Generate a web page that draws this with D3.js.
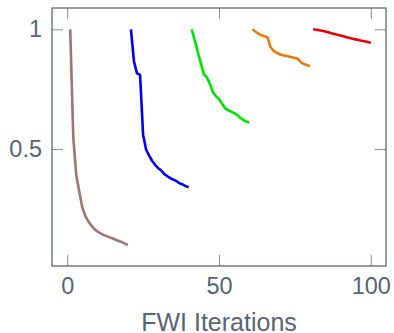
<!DOCTYPE html>
<html>
<head>
<meta charset="utf-8">
<script src="https://cdn.jsdelivr.net/npm/d3@7"></script>
<style>
  body { margin: 0; background: #fff; }
  svg { display: block; }
  .tick text { font-family: "Liberation Sans", Arial, sans-serif; font-size: 23.5px; fill: #566474; }
  .label { font-family: "Liberation Sans", Arial, sans-serif; font-size: 25px; fill: #566474; }
</style>
</head>
<body>
<div id="chart"></div>
<script>
// one line per stage, 20 iterations each
const stage1 = [1.0, 0.55, 0.39, 0.32, 0.255, 0.22, 0.197, 0.18, 0.165, 0.155, 0.148, 0.141, 0.136, 0.131, 0.126, 0.121, 0.116, 0.111, 0.105, 0.099];
const stage2 = [1.0, 0.865, 0.816, 0.81, 0.56, 0.497, 0.472, 0.45, 0.433, 0.42, 0.41, 0.395, 0.386, 0.378, 0.372, 0.366, 0.357, 0.352, 0.345, 0.34];
const stage3 = [1.0, 0.955, 0.905, 0.86, 0.812, 0.8, 0.772, 0.737, 0.72, 0.709, 0.69, 0.67, 0.662, 0.656, 0.65, 0.643, 0.63, 0.621, 0.615, 0.611];
const stage4 = [1.0, 0.99, 0.982, 0.975, 0.971, 0.966, 0.925, 0.91, 0.902, 0.896, 0.892, 0.889, 0.886, 0.883, 0.88, 0.877, 0.862, 0.855, 0.85, 0.847];
const stage5 = [1.0, 0.998, 0.996, 0.994, 0.991, 0.988, 0.984, 0.98, 0.977, 0.974, 0.971, 0.967, 0.964, 0.961, 0.958, 0.955, 0.952, 0.95, 0.947, 0.944];
const stages = [stage1, stage2, stage3, stage4, stage5];
const colors = ['#a07474', '#0000f5', '#00e400', '#ec7a0c', '#ec0000'];
const xTicks = [0, 50, 100];
const yTicks = [0.5, 1];

const margin = {top: 8, right: 8, bottom: 67, left: 52};
const W = 394, H = 333;
const w = W - margin.left - margin.right;
const h = H - margin.top - margin.bottom;

const svg = d3.select('#chart').append('svg')
  .attr('width', W)
  .attr('height', H);

const g = svg.append('g')
  .attr('transform', `translate(${margin.left}, ${margin.top})`);

const x = d3.scaleLinear().domain([-5, 105]).range([0, w]);
const y = d3.scaleLinear().domain([0.0113, 1.089]).range([h, 0]);

// tick marks, inward on all four sides
const tickLen = 11;
const tickColor = '#8e8e8e';

g.append('g').attr('transform', `translate(0, ${h})`)
  .call(d3.axisBottom(x).tickValues(xTicks).tickSize(-tickLen).tickPadding(11).tickFormat(d3.format('d')))
  .call(a => a.select('.domain').remove())
  .call(a => a.selectAll('.tick line').attr('stroke', tickColor));

g.append('g')
  .call(d3.axisTop(x).tickValues(xTicks).tickSize(-tickLen).tickFormat(''))
  .call(a => a.select('.domain').remove())
  .call(a => a.selectAll('.tick line').attr('stroke', tickColor));

g.append('g')
  .call(d3.axisLeft(y).tickValues(yTicks).tickSize(-tickLen).tickPadding(10).tickFormat(d => d))
  .call(a => a.select('.domain').remove())
  .call(a => a.selectAll('.tick line').attr('stroke', tickColor));

g.append('g').attr('transform', `translate(${w}, 0)`)
  .call(d3.axisRight(y).tickValues(yTicks).tickSize(-tickLen).tickFormat(''))
  .call(a => a.select('.domain').remove())
  .call(a => a.selectAll('.tick line').attr('stroke', tickColor));

g.selectAll('.tick text').attr('fill', '#566474');

// frame
g.append('rect')
  .attr('width', w).attr('height', h)
  .attr('fill', 'none')
  .attr('stroke', '#4e5c6b')
  .attr('stroke-width', 1.2);

// lines
const line = d3.line()
  .x(d => x(d[0]))
  .y(d => y(d[1]));

stages.forEach((vals, i) => {
  const pts = vals.map((v, j) => [i * 20 + j + 1, v]);
  g.append('path')
    .datum(pts)
    .attr('fill', 'none')
    .attr('stroke', colors[i])
    .attr('stroke-width', 2.6)
    .attr('stroke-linejoin', 'round')
    .attr('d', line);
});

// axis label
g.append('text').attr('class', 'label')
  .attr('x', x(50))
  .attr('y', h + 65)
  .style('text-anchor', 'middle')
  .text('FWI Iterations');
</script>
</body>
</html>
